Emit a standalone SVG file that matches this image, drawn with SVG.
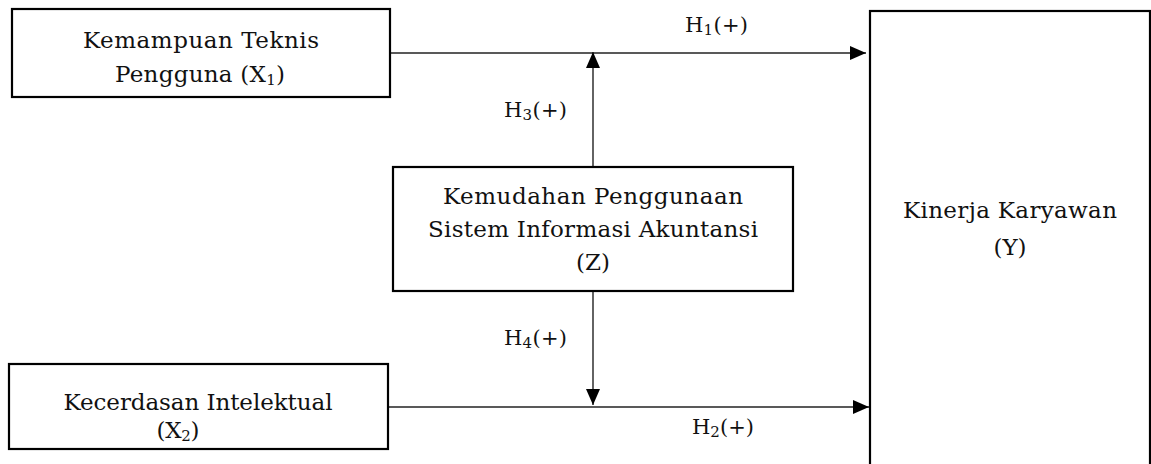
<svg xmlns="http://www.w3.org/2000/svg" width="1151" height="464" viewBox="0 0 1151 464">
<style>
.box{fill:#fff;stroke:#000;stroke-width:2.2}
.t{font-family:"DejaVu Serif","Liberation Serif",serif;font-size:23px;fill:#111;text-anchor:middle}
.lbl{font-family:"DejaVu Serif","Liberation Serif",serif;font-size:21px;fill:#111}
.sub{font-size:15px}
.c{stroke:#222;stroke-width:1.4;fill:none}
</style>
<defs>
<marker id="ah" viewBox="0 0 16 14" refX="16" refY="7" markerWidth="16" markerHeight="14" markerUnits="userSpaceOnUse" orient="auto">
<path d="M0,0 L16,7 L0,14 Z" fill="#000"/>
</marker>
</defs>
<rect width="1151" height="464" fill="#fff"/>
<g id="connectors">
<line class="c" x1="390" y1="53" x2="866" y2="53" marker-end="url(#ah)"/>
<line class="c" x1="388" y1="407" x2="869" y2="407" marker-end="url(#ah)"/>
<line class="c" x1="593" y1="167" x2="593" y2="52" marker-end="url(#ah)"/>
<line class="c" x1="593" y1="291" x2="593" y2="405" marker-end="url(#ah)"/>
<text class="lbl" x="685" y="32" textLength="63">H<tspan class="sub" dy="3">1</tspan><tspan dy="-3">(+)</tspan></text>
<text class="lbl" x="504" y="117" textLength="63">H<tspan class="sub" dy="3">3</tspan><tspan dy="-3">(+)</tspan></text>
<text class="lbl" x="504" y="345" textLength="63">H<tspan class="sub" dy="3">4</tspan><tspan dy="-3">(+)</tspan></text>
<text class="lbl" x="692" y="434" textLength="62">H<tspan class="sub" dy="3">2</tspan><tspan dy="-3">(+)</tspan></text>
</g>
<g id="node-x1">
<rect class="box" x="12" y="9" width="378" height="88"/>
<text class="t" x="201" y="48" textLength="236">Kemampuan Teknis</text>
<text class="t" x="200" y="82" textLength="170">Pengguna (X<tspan class="sub" dy="3">1</tspan><tspan dy="-3">)</tspan></text>
</g>
<g id="node-x2">
<rect class="box" x="9" y="364" width="379" height="85"/>
<text class="t" x="198" y="410" textLength="269">Kecerdasan Intelektual</text>
<text class="t" x="178" y="438" textLength="43">(X<tspan class="sub" dy="3">2</tspan><tspan dy="-3">)</tspan></text>
</g>
<g id="node-z">
<rect class="box" x="393" y="167" width="400" height="124"/>
<text class="t" x="593" y="204" textLength="300">Kemudahan Penggunaan</text>
<text class="t" x="593" y="237" textLength="330">Sistem Informasi Akuntansi</text>
<text class="t" x="593" y="270" textLength="34">(Z)</text>
</g>
<g id="node-y">
<rect class="box" x="870" y="11" width="280" height="462"/>
<text class="t" x="1010" y="218" textLength="214">Kinerja Karyawan</text>
<text class="t" x="1010" y="255" textLength="33">(Y)</text>
</g>
</svg>
